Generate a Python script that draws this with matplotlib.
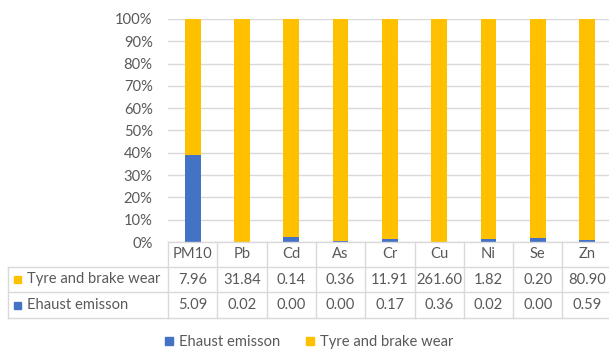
import matplotlib
matplotlib.use("Agg")
import matplotlib.pyplot as plt
from matplotlib.lines import Line2D
from matplotlib.transforms import blended_transform_factory

# данні по категоріях
categories = ["PM10", "Pb", "Cd", "As", "Cr", "Cu", "Ni", "Se", "Zn"]
tyre_brake = [7.96, 31.84, 0.14, 0.36, 11.91, 261.60, 1.82, 0.20, 80.90]
exhaust = [5.09, 0.02, 0.003, 0.002, 0.17, 0.36, 0.024, 0.0039, 0.59]

blue = "#4472C4"
yellow = "#FFC000"
grid_c = "#D9D9D9"
text_c = "#595959"
fs = 10.6

plt.rcParams["font.family"] = ["Lato", "DejaVu Sans"]

W, H = 609, 349
fig = plt.figure(figsize=(W / 100, H / 100), dpi=100)

# межі області графіка в пікселях
left_px, right_px, top_px, bottom_px = 168, 609, 19, 242
col_px = 49.3
ax = fig.add_axes([left_px / W, 1 - bottom_px / H,
                   (right_px - left_px) / W, (bottom_px - top_px) / H])

x = list(range(len(categories)))
totals = [e + t for e, t in zip(exhaust, tyre_brake)]
ex_pct = [e / s * 100 for e, s in zip(exhaust, totals)]
ty_pct = [t / s * 100 for t, s in zip(tyre_brake, totals)]

ax.bar(x, ex_pct, width=0.32, color=blue, zorder=3)
ax.bar(x, ty_pct, width=0.32, bottom=ex_pct, color=yellow, zorder=3)

ax.set_xlim(-0.5, -0.5 + (right_px - left_px) / col_px)
ax.set_ylim(0, 100)
ax.set_yticks(range(0, 101, 10))
ax.set_yticklabels([f"{v}%" for v in range(0, 101, 10)])
ax.tick_params(axis="y", length=0, pad=11, labelsize=fs, labelcolor=text_c)
ax.set_xticks([])
ax.yaxis.grid(True, color=grid_c, linewidth=1)
ax.set_axisbelow(True)
for s in ax.spines.values():
    s.set_visible(False)

# таблиця даних під графіком
tr = blended_transform_factory(ax.transData, fig.transFigure)
row_px = [242, 267, 292, 318]
fy = lambda p: 1 - p / H
lab_left = 8 / W

for p in row_px[1:]:
    fig.add_artist(Line2D([lab_left, 1], [fy(p), fy(p)], color=grid_c, lw=1))
fig.add_artist(Line2D([left_px / W, 1], [fy(row_px[0]), fy(row_px[0])], color=grid_c, lw=1))
fig.add_artist(Line2D([lab_left, lab_left], [fy(row_px[1]), fy(row_px[3])], color=grid_c, lw=1))
for i in range(len(categories) + 1):
    ax.add_artist(Line2D([i - 0.5, i - 0.5], [fy(row_px[0]), fy(row_px[3])],
                         color=grid_c, lw=1, transform=tr, clip_on=False))

for i, c in enumerate(categories):
    ymid = fy((row_px[0] + row_px[1]) / 2)
    ax.text(i, ymid, c, transform=tr, ha="center", va="center", fontsize=fs, color=text_c)
    ymid = fy((row_px[1] + row_px[2]) / 2)
    ax.text(i, ymid, f"{tyre_brake[i]:.2f}", transform=tr, ha="center", va="center",
            fontsize=fs, color=text_c)
    ymid = fy((row_px[2] + row_px[3]) / 2)
    ax.text(i, ymid, f"{exhaust[i]:.2f}", transform=tr, ha="center", va="center",
            fontsize=fs, color=text_c)

row_labels = [("Tyre and brake wear", yellow), ("Ehaust emisson", blue)]
for k, (name, col) in enumerate(row_labels):
    ymid = fy((row_px[k + 1] + row_px[k + 2]) / 2)
    fig.add_artist(plt.Rectangle((14 / W, ymid - 3.5 / H), 7 / W, 7 / H,
                                 color=col, transform=fig.transFigure))
    fig.text(27 / W, ymid, name, ha="left", va="center", fontsize=fs, color=text_c)

# легенда
handles = [Line2D([], [], marker="s", ls="", color=blue, markersize=6),
           Line2D([], [], marker="s", ls="", color=yellow, markersize=6)]
fig.legend(handles, ["Ehaust emisson", "Tyre and brake wear"], loc="center",
           bbox_to_anchor=(0.505, 1 - 342 / H), ncol=2, frameon=False, fontsize=fs,
           labelcolor=text_c, handletextpad=0.2, columnspacing=1.5, handlelength=1)

fig.savefig("out.png", dpi=100)
